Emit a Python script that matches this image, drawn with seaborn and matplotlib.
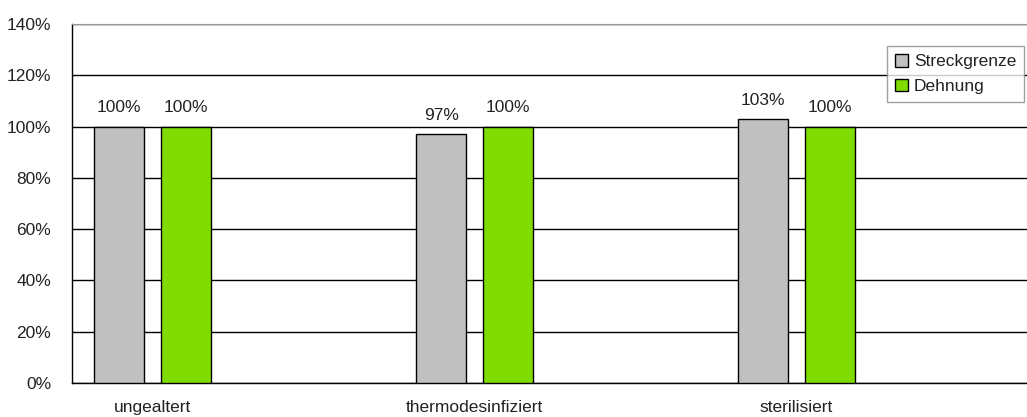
import pandas as pd
import matplotlib.pyplot as plt
import seaborn as sns

# Werte aus dem Diagramm (relativ zu ungealtert)
zustaende = ['ungealtert', 'thermodesinfiziert', 'sterilisiert']
streckgrenze = [100, 97, 103]
dehnung = [100, 100, 100]
serien = ['Streckgrenze', 'Dehnung']
# leere Kategorien zwischen den Gruppen (wie im Excel-Original)
slots = ['ungealtert', 'leer1', 'thermodesinfiziert', 'leer2', 'sterilisiert', 'leer3']

df = pd.DataFrame({
    'zustand': zustaende * 2,
    'serie': ['Streckgrenze'] * 3 + ['Dehnung'] * 3,
    'wert': streckgrenze + dehnung,
})

sns.set_style('white')
plt.rcParams['font.family'] = ['Liberation Sans', 'DejaVu Sans']
fs = 12.5

fig = plt.figure(figsize=(10.27, 4.17), dpi=100)
ax = fig.add_axes([72 / 1027, 1 - 383 / 417, 966 / 1027, 359 / 417])

sns.barplot(data=df, x='zustand', y='wert', hue='serie', order=slots,
            hue_order=serien, palette=['#C0C0C0', '#80DC00'],
            width=0.83, gap=0.24, edgecolor='black', linewidth=1,
            saturation=1, ax=ax, zorder=3)

for cont in ax.containers:
    ax.bar_label(cont, labels=[f'{v:.0f}%' for v in cont.datavalues],
                 padding=8, fontsize=fs, color='#222222')

# y-Achse
ax.set_ylim(0, 140)
ax.set_yticks(range(0, 141, 20))
ax.set_yticklabels([f'{t}%' for t in range(0, 141, 20)])
ax.yaxis.grid(True, color='black', linewidth=1)
ax.set_axisbelow(True)

# x-Achse: Striche an den Grenzen, Beschriftung in der Mitte
ax.set_xlim(-0.5, 5.5)
ax.set_xticks([i - 0.5 for i in range(7)])
ax.set_xticklabels([])
ax.set_xticks([0, 2, 4], minor=True)
ax.set_xticklabels(zustaende, minor=True)
ax.tick_params(axis='x', which='minor', length=0, pad=12)
ax.tick_params(axis='both', which='major', length=5, width=1, color='black',
               direction='out')
ax.tick_params(axis='both', which='both', labelsize=fs, labelcolor='#222222')
ax.tick_params(axis='y', pad=10)
ax.set_xlabel('')
ax.set_ylabel('')

for s in ['left', 'bottom']:
    ax.spines[s].set_color('black')
    ax.spines[s].set_linewidth(1)
ax.spines['top'].set_color('#999999')
ax.spines['right'].set_visible(False)

leg = ax.legend(title=None, loc='upper left',
                bbox_to_anchor=(887 / 1027, 1 - 46 / 417),
                bbox_transform=fig.transFigure, frameon=True, fancybox=False,
                fontsize=fs, handlelength=0.75, handleheight=0.75,
                handletextpad=0.35, borderpad=0.45, labelspacing=0.55,
                borderaxespad=0)
leg.get_frame().set_edgecolor('#888888')
leg.get_frame().set_linewidth(1)
for t in leg.get_texts():
    t.set_color('#222222')

fig.savefig('out.png', dpi=100)
